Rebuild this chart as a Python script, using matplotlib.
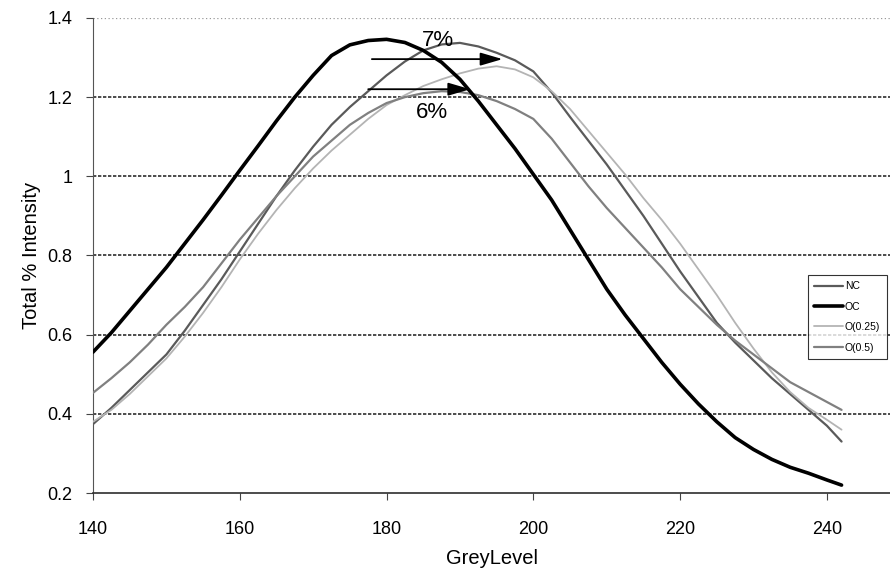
import matplotlib
matplotlib.use("Agg")
import matplotlib.pyplot as plt

plt.rcParams['font.family'] = ['Liberation Sans', 'DejaVu Sans']

# ---- data ----
grey_level = [140, 142.5, 145, 147.5, 150, 152.5, 155, 157.5, 160, 162.5, 165, 167.5, 170, 172.5,
              175, 177.5, 180, 182.5, 185, 187.5, 190, 192.5, 195, 197.5, 200, 202.5, 205, 207.5,
              210, 212.5, 215, 217.5, 220, 222.5, 225, 227.5, 230, 232.5, 235, 237.5, 240, 242]

nc = [0.374, 0.415, 0.46, 0.505, 0.55, 0.61, 0.675, 0.74, 0.81, 0.88, 0.95, 1.015, 1.075, 1.13,
      1.175, 1.215, 1.255, 1.29, 1.318, 1.333, 1.337, 1.328, 1.312, 1.293, 1.265, 1.212, 1.15, 1.09,
      1.03, 0.965, 0.90, 0.83, 0.76, 0.695, 0.63, 0.58, 0.535, 0.49, 0.45, 0.41, 0.37, 0.33]

oc = [0.556, 0.605, 0.66, 0.715, 0.77, 0.83, 0.89, 0.952, 1.015, 1.077, 1.14, 1.20, 1.255, 1.305,
      1.332, 1.343, 1.346, 1.338, 1.318, 1.288, 1.245, 1.19, 1.13, 1.07, 1.005, 0.94, 0.865, 0.79,
      0.715, 0.65, 0.59, 0.53, 0.475, 0.425, 0.38, 0.34, 0.31, 0.285, 0.265, 0.25, 0.233, 0.22]

o025 = [0.38, 0.41, 0.45, 0.495, 0.54, 0.595, 0.655, 0.72, 0.79, 0.855, 0.915, 0.97, 1.02, 1.065,
        1.105, 1.145, 1.18, 1.205, 1.228, 1.245, 1.26, 1.272, 1.278, 1.27, 1.25, 1.215, 1.17, 1.115,
        1.06, 1.005, 0.945, 0.89, 0.83, 0.765, 0.70, 0.63, 0.565, 0.505, 0.455, 0.415, 0.385, 0.36]

o05 = [0.453, 0.49, 0.53, 0.575, 0.625, 0.67, 0.72, 0.78, 0.84, 0.895, 0.95, 1.0, 1.05, 1.09,
       1.13, 1.16, 1.185, 1.20, 1.21, 1.215, 1.213, 1.205, 1.19, 1.17, 1.145, 1.095, 1.035, 0.975,
       0.92, 0.87, 0.82, 0.77, 0.715, 0.67, 0.625, 0.585, 0.55, 0.515, 0.48, 0.455, 0.43, 0.41]

series_names = ['NC', 'OC', 'O(0.25)', 'O(0.5)']

x_ticks = [140, 160, 180, 200, 220, 240]
y_ticks = [0.2, 0.4, 0.6, 0.8, 1.0, 1.2, 1.4]
y_tick_labels = ['0.2', '0.4', '0.6', '0.8', '1', '1.2', '1.4']

# arrows (start x, end x, y) and labels
arrow7 = (178.0, 195.8, 1.296)
arrow6 = (177.5, 191.4, 1.22)
label7 = (187.0, 1.344, '7%')
label6 = (186.2, 1.16, '6%')

fig = plt.figure(figsize=(8.9, 5.79), dpi=100)
ax = fig.add_axes([0.1045, 0.1485, 0.8955, 0.8205])

ax.set_xlim(140, 248.6)
ax.set_ylim(0.2, 1.4)

# gridlines
for yv in y_ticks[1:-1]:
    ax.axhline(yv, color='#2e2e2e', lw=1.2, ls=(0, (2, 1)), zorder=1)
ax.axhline(1.4, color='#999999', lw=0.9, ls=(0, (1, 2)), zorder=1)

styles = [
    (nc, '#5a5a5a', 1.6, 3),
    (oc, '#000000', 2.6, 4),
    (o025, '#b4b4b4', 1.3, 3),
    (o05, '#808080', 1.6, 3),
]
for (vals, col, lw, z), name in zip(styles, series_names):
    ax.plot(grey_level, vals, color=col, lw=lw, label=name, zorder=z,
            solid_joinstyle='round', solid_capstyle='round')

for (x0, x1, yv) in (arrow7, arrow6):
    ax.annotate('', xy=(x1, yv), xytext=(x0, yv),
                arrowprops=dict(arrowstyle='-|>,head_length=0.75,head_width=0.22', color='black', lw=1.3,
                                mutation_scale=18, shrinkA=0, shrinkB=0),
                zorder=6)
for (xv, yv, s) in (label7, label6):
    ax.text(xv, yv, s, ha='center', va='center', fontsize=16, zorder=7)

ax.spines['top'].set_visible(False)
ax.spines['right'].set_visible(False)
ax.spines['bottom'].set_color('#2e2e2e')
ax.spines['bottom'].set_linestyle((0, (2, 1)))
ax.spines['bottom'].set_linewidth(1.2)
ax.spines['left'].set_color('#555555')
ax.spines['left'].set_linestyle((0, (2, 1)))

ax.set_xticks(x_ticks)
ax.set_xticklabels([str(v) for v in x_ticks])
ax.set_yticks(y_ticks)
ax.set_yticklabels(y_tick_labels)
ax.tick_params(axis='both', labelsize=13, direction='out', length=5, width=0.8, color='#444444')
ax.tick_params(axis='x', pad=15)
ax.tick_params(axis='y', pad=10)

ax.set_xlabel('GreyLevel', fontsize=14.5, labelpad=8)
ax.set_ylabel('Total % Intensity', fontsize=14.5, labelpad=4)

leg = fig.legend(loc='upper left', bbox_to_anchor=(808 / 890, 1 - 275 / 579),
                 borderaxespad=0, fontsize=7.5, frameon=True, fancybox=False, edgecolor='black',
                 handlelength=2.8, handletextpad=0.15, borderpad=0.6, labelspacing=1.0)
leg.get_frame().set_linewidth(0.8)

fig.savefig('out.png', dpi=100)
